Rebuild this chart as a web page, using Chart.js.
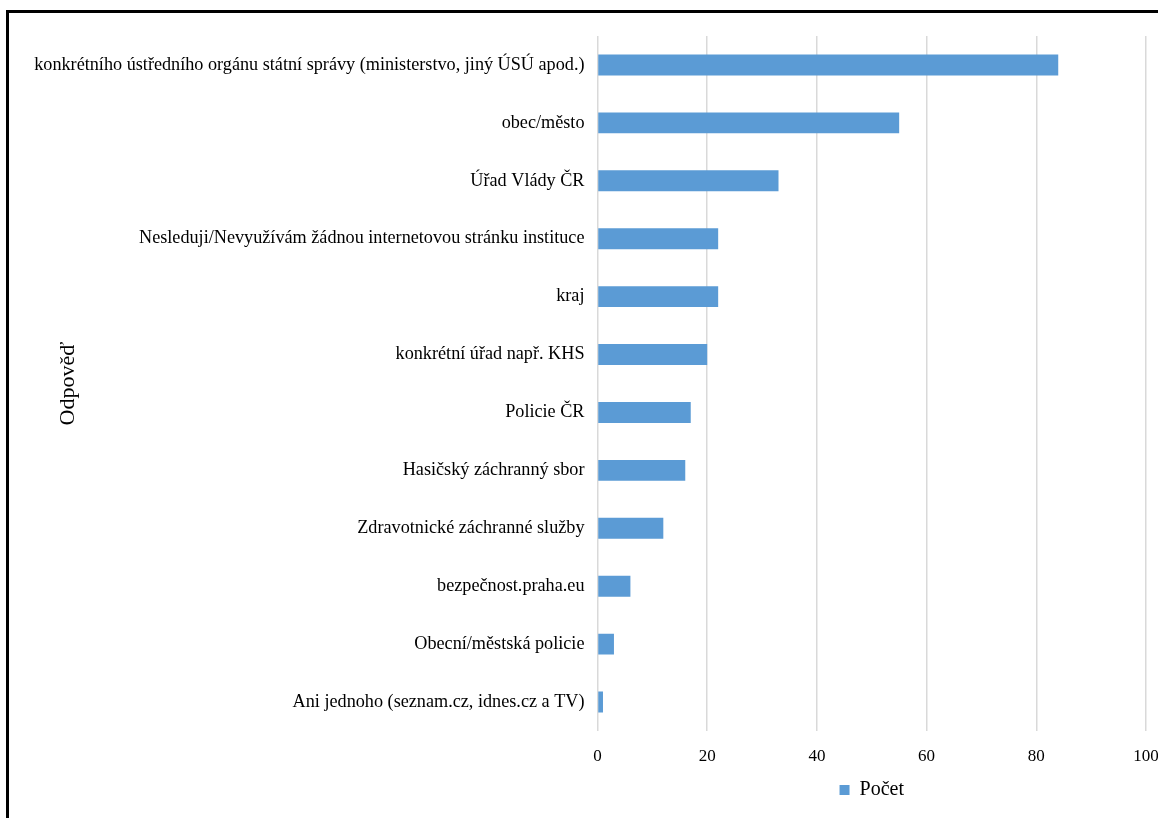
<!DOCTYPE html>
<html lang="cs">
<head>
  <meta charset="UTF-8">
  <title>Počet odpovědí</title>
  <script src="https://cdn.jsdelivr.net/npm/chart.js"></script>
  <style>
    * { box-sizing: border-box; }
    body, html { margin:0; padding:0; background:#fff; }
    .frame { position:absolute; left:6px; top:10px; width:1160px; height:820px; border-left:3px solid #000; border-top:3px solid #000; }
    .wrap { position:absolute; left:0; top:0; width:1158px; height:818px; }
  </style>
</head>
<body>
  <div class="frame"></div>
  <div class="wrap"><canvas id="chart"></canvas></div>
  <script>
    // odpovědi a počty (odshora dolů)
    const answers = [
      'konkrétního ústředního orgánu státní správy (ministerstvo, jiný ÚSÚ apod.)',
      'obec/město',
      'Úřad Vlády ČR',
      'Nesleduji/Nevyužívám žádnou internetovou stránku instituce',
      'kraj',
      'konkrétní úřad např. KHS',
      'Policie ČR',
      'Hasičský záchranný sbor',
      'Zdravotnické záchranné služby',
      'bezpečnost.praha.eu',
      'Obecní/městská policie',
      'Ani jednoho (seznam.cz, idnes.cz a TV)'
    ];
    const counts = [84, 55, 33, 22, 22, 20, 17, 16, 12, 6, 3, 1];
    const xTicks = [0, 20, 40, 60, 80, 100];

    const serif = "'Liberation Serif', 'Times New Roman', serif";
    const gridColor = '#d9d9d9';

    // legenda vycentrovaná pod plochou grafu, ne pod celým plátnem
    const legendUnderPlot = {
      id: 'legendUnderPlot',
      afterLayout(chart) {
        const lg = chart.legend;
        if (!lg) return;
        lg.left = chart.chartArea.left;
        lg.right = chart.chartArea.right;
        lg.width = lg.right - lg.left;
      }
    };

    new Chart(document.getElementById('chart'), {
      type: 'bar',
      data: {
        labels: answers,
        datasets: [{
          label: 'Počet',
          data: counts,
          backgroundColor: '#5b9bd5',
          borderWidth: 0,
          categoryPercentage: 1,
          barPercentage: 0.36
        }]
      },
      options: {
        indexAxis: 'y',
        responsive: true,
        maintainAspectRatio: false,
        animation: false,
        layout: { padding: { top: 36, right: 12, left: 28, bottom: 8 } },
        plugins: {
          tooltip: { enabled: false },
          legend: {
            position: 'bottom',
            labels: {
              font: { family: serif, size: 20 },
              color: '#000',
              boxWidth: 10,
              boxHeight: 10,
              padding: 6
            }
          }
        },
        scales: {
          x: {
            min: 0,
            max: 100,
            afterBuildTicks: s => { s.ticks = xTicks.map(v => ({ value: v })); },
            afterFit: s => { s.height = 43; s.paddingRight = 0; },
            grid: { color: gridColor, lineWidth: 1.5, drawTicks: false },
            border: { display: false },
            ticks: { font: { family: serif, size: 17 }, color: '#000', padding: 15 }
          },
          y: {
            afterFit: s => { s.width = 569.5; },
            grid: { display: false, drawTicks: false },
            border: { display: false },
            ticks: { font: { family: serif, size: 18.2 }, color: '#000', padding: 13 },
            title: {
              display: true,
              text: 'Odpověď',
              font: { family: serif, size: 22 },
              color: '#000',
              padding: { top: 27, bottom: 0 }
            }
          }
        }
      },
      plugins: [legendUnderPlot]
    });
  </script>
</body>
</html>
